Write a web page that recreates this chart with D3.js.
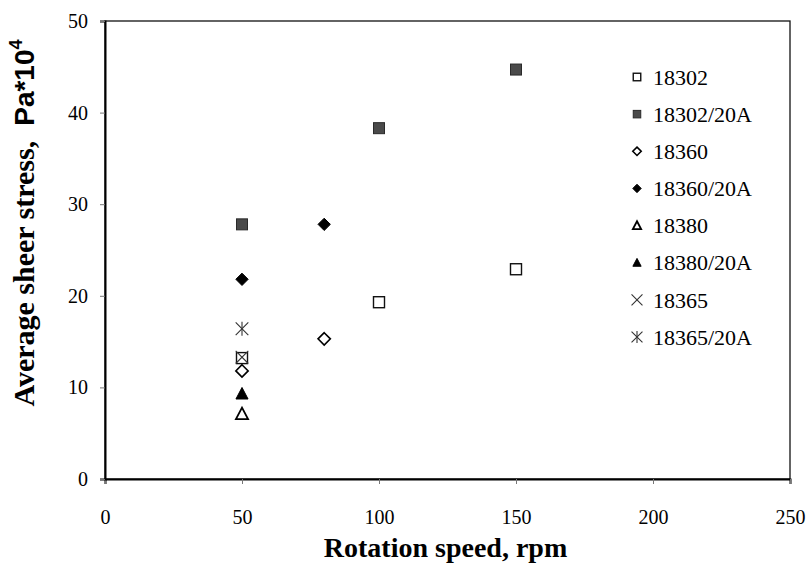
<!DOCTYPE html>
<html>
<head>
<meta charset="utf-8">
<script src="https://cdn.jsdelivr.net/npm/d3@7"></script>
<style>
  html, body { margin: 0; padding: 0; background: #fff; }
  svg { display: block; }
</style>
</head>
<body>
<svg id="chart" width="812" height="564"></svg>
<script>
// Rotation speed (rpm) and average shear stress (Pa*10^4) per sample
const seriesNames = ["18302", "18302/20A", "18360", "18360/20A", "18380", "18380/20A", "18365", "18365/20A"];
const markerKinds = ["squareOpen", "squareFilled", "diamondOpen", "diamondFilled", "triangleOpen", "triangleFilled", "cross", "asterisk"];

const speed18302 = [50, 100, 150];
const stress18302 = [13.2, 19.3, 22.9];
const speed18302A = [50, 100, 150];
const stress18302A = [27.8, 38.3, 44.7];
const speed18360 = [50, 80];
const stress18360 = [11.8, 15.3];
const speed18360A = [50, 80];
const stress18360A = [21.8, 27.8];
const speed18380 = [50];
const stress18380 = [7.1];
const speed18380A = [50];
const stress18380A = [9.3];
const speed18365 = [50];
const stress18365 = [13.3];
const speed18365A = [50];
const stress18365A = [16.4];

const xTickValues = [0, 50, 100, 150, 200, 250];
const yTickValues = [0, 10, 20, 30, 40, 50];

const speeds = [speed18302, speed18302A, speed18360, speed18360A, speed18380, speed18380A, speed18365, speed18365A];
const stresses = [stress18302, stress18302A, stress18360, stress18360A, stress18380, stress18380A, stress18365, stress18365A];

const series = seriesNames.map((name, i) => ({
  name,
  kind: markerKinds[i],
  points: speeds[i].map((s, j) => ({ x: s, y: stresses[i][j] }))
}));

const svg = d3.select("#chart");
const margin = { left: 105, right: 22, top: 21, bottom: 85 };
const W = 812, H = 564;
const x = d3.scaleLinear().domain([0, 250]).range([margin.left, W - margin.right]);
const y = d3.scaleLinear().domain([0, 50]).range([H - margin.bottom, margin.top]);

const serif = "'Liberation Serif', 'Times New Roman', serif";
const sans = "'Liberation Sans', Arial, sans-serif";

// plot frame
svg.append("rect")
  .attr("x", x(0)).attr("y", y(50))
  .attr("width", x(250) - x(0)).attr("height", y(0) - y(50))
  .attr("fill", "none").attr("stroke", "#111").attr("stroke-width", 1.3);

// axes
const xAxis = d3.axisBottom(x).tickValues(xTickValues).tickSize(5).tickPadding(26).tickFormat(d3.format("d"));
const yAxis = d3.axisLeft(y).tickValues(yTickValues).tickSize(5).tickPadding(12).tickFormat(d3.format("d"));

const gx = svg.append("g").attr("transform", `translate(0,${y(0)})`).call(xAxis);
const gy = svg.append("g").attr("transform", `translate(${x(0)},0)`).call(yAxis);

[gx, gy].forEach(g => {
  g.select(".domain").attr("stroke", "#000").attr("stroke-width", 2);
  g.selectAll(".tick line").attr("stroke", "#777").attr("stroke-width", 1);
  g.selectAll(".tick text")
    .attr("fill", "#000")
    .style("font-family", serif)
    .style("font-size", "20px");
});

// axis titles
svg.append("text")
  .attr("x", (x(0) + x(250)) / 2 - 2)
  .attr("y", 557)
  .attr("text-anchor", "middle")
  .style("font-family", serif)
  .style("font-weight", "bold")
  .style("font-size", "28px")
  .text("Rotation speed, rpm");

const yTitle = svg.append("text")
  .attr("transform", "translate(34,223) rotate(-90)")
  .attr("text-anchor", "middle")
  .style("font-weight", "bold")
  .style("font-size", "30px");
yTitle.append("tspan").style("font-family", serif).text("Average sheer stress,\u00a0\u00a0");
yTitle.append("tspan").style("font-family", sans).style("font-size", "28px").text("Pa*10");
yTitle.append("tspan").style("font-family", sans).style("font-size", "18px").attr("dy", -12).text("4");

// marker shapes, centered on the origin
function drawMarker(g, kind, s) {
  const r = s / 2;
  switch (kind) {
    case "squareOpen":
      g.append("rect").attr("x", -r).attr("y", -r).attr("width", s).attr("height", s)
        .attr("fill", "#fff").attr("stroke", "#111").attr("stroke-width", 1.4);
      break;
    case "squareFilled":
      g.append("rect").attr("x", -r).attr("y", -r).attr("width", s).attr("height", s)
        .attr("fill", "#4a4a4a").attr("stroke", "#2a2a2a").attr("stroke-width", 1);
      break;
    case "diamondOpen":
    case "diamondFilled": {
      const d = r * 1.12;
      g.append("path").attr("d", `M0,${-d}L${d},0L0,${d}L${-d},0Z`)
        .attr("fill", kind === "diamondOpen" ? "#fff" : "#000")
        .attr("stroke", "#000").attr("stroke-width", kind === "diamondOpen" ? 1.6 : 1);
      break;
    }
    case "triangleOpen":
    case "triangleFilled": {
      const w = s * 1.1, h = s * 1.05;
      g.append("path").attr("d", `M0,${-h * 0.55}L${w / 2},${h * 0.45}L${-w / 2},${h * 0.45}Z`)
        .attr("fill", kind === "triangleOpen" ? "#fff" : "#000")
        .attr("stroke", "#000").attr("stroke-width", kind === "triangleOpen" ? 1.8 : 1)
        .attr("stroke-linejoin", "miter");
      break;
    }
    case "cross":
    case "asterisk": {
      const c = r * 1.15;
      g.append("path").attr("d", `M${-c},${-c}L${c},${c}M${c},${-c}L${-c},${c}`)
        .attr("stroke", "#333").attr("stroke-width", 1.1).attr("fill", "none");
      if (kind === "asterisk") {
        g.append("path").attr("d", `M0,${-c * 1.1}L0,${c * 1.1}`)
          .attr("stroke", "#333").attr("stroke-width", 1.1);
      }
      break;
    }
  }
}

// data points
const plot = svg.append("g");
series.forEach(sr => {
  sr.points.forEach(p => {
    const g = plot.append("g").attr("transform", `translate(${x(p.x)},${y(p.y)})`);
    drawMarker(g, sr.kind, 11);
  });
});

// legend
const legend = svg.append("g");
const legendY = d3.scalePoint().domain(seriesNames).range([77, 337]);
series.forEach(sr => {
  const g = legend.append("g").attr("transform", `translate(637,${legendY(sr.name)})`);
  const keySize = (sr.kind === "cross" || sr.kind === "asterisk") ? 9.5 : 7.5;
  drawMarker(g, sr.kind, keySize);
  g.append("text")
    .attr("x", 16).attr("y", 0).attr("dy", "0.35em")
    .style("font-family", serif)
    .style("font-size", "22px")
    .attr("fill", "#000")
    .text(sr.name);
});
</script>
</body>
</html>
